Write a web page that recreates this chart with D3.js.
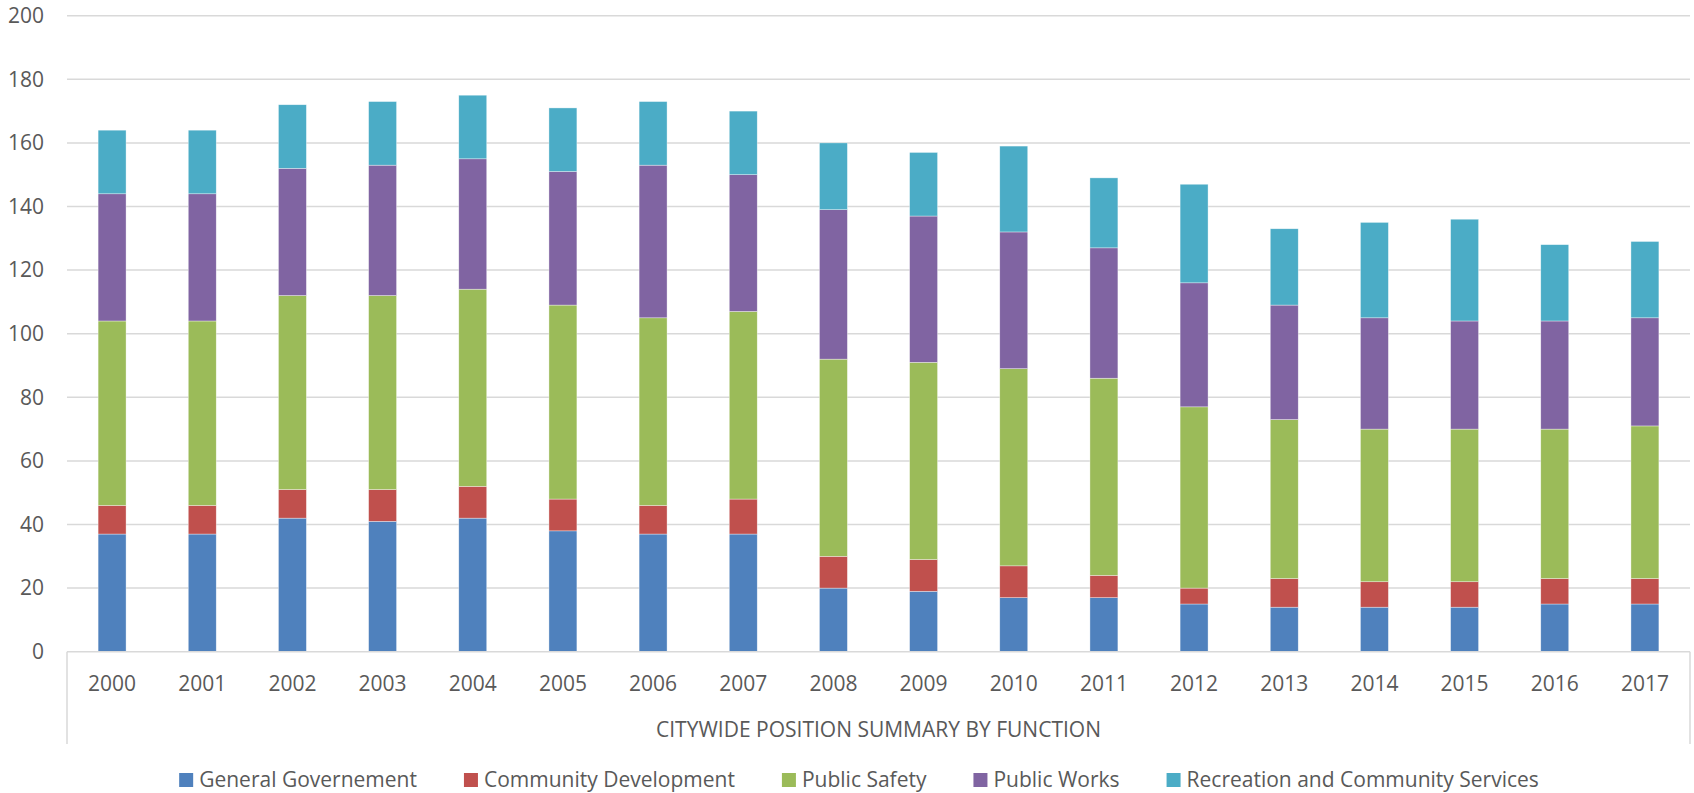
<!DOCTYPE html>
<html>
<head>
<meta charset="utf-8">
<title>Citywide position summary by function</title>
<script src="https://cdn.jsdelivr.net/npm/d3@7"></script>
<style>
  body { margin: 0; background: #fff; }
  text { font-family: "Open Sans", sans-serif; fill: #595959; }
</style>
</head>
<body>
<script>

// data
var years = ["2000","2001","2002","2003","2004","2005","2006","2007","2008",
             "2009","2010","2011","2012","2013","2014","2015","2016","2017"];
var seriesNames = ["General Governement", "Community Development", "Public Safety",
                   "Public Works", "Recreation and Community Services"];
var generalGov   = [37,37,42,41,42,38,37,37,20,19,17,17,15,14,14,14,15,15];
var communityDev = [9,9,9,10,10,10,9,11,10,10,10,7,5,9,8,8,8,8];
var publicSafety = [58,58,61,61,62,61,59,59,62,62,62,62,57,50,48,48,47,48];
var publicWorks  = [40,40,40,41,41,42,48,43,47,46,43,41,39,36,35,34,34,34];
var recreation   = [20,20,20,20,20,20,20,20,21,20,27,22,31,24,30,32,24,24];
var yTicks = [0,20,40,60,80,100,120,140,160,180,200];
var axisTitle = "CITYWIDE POSITION SUMMARY BY FUNCTION";

var colors = ["#4F81BD", "#C0504D", "#9BBB59", "#8064A2", "#4BACC6"];

var w = 1694, h = 793;
var plotLeft = 67, plotRight = 1690, plotTop = 15.7, plotBottom = 651.7;

// build rows for d3.stack
var allSeries = [generalGov, communityDev, publicSafety, publicWorks, recreation];
var table = years.map(function(yr, i) {
  var row = { year: yr };
  seriesNames.forEach(function(s, k) { row[s] = allSeries[k][i]; });
  return row;
});
var stacked = d3.stack().keys(seriesNames)(table);

var svg = d3.select("body").append("svg")
  .attr("width", w)
  .attr("height", h);

var x = d3.scaleBand()
  .domain(years)
  .range([plotLeft, plotRight])
  .paddingInner(0.69)
  .paddingOuter(0.345);

var y = d3.scaleLinear()
  .domain([0, 200])
  .range([plotBottom, plotTop]);

// gridlines
svg.append("g")
  .selectAll("line")
  .data(yTicks.filter(function(d) { return d > 0; }))
  .enter()
  .append("line")
  .attr("x1", plotLeft)
  .attr("x2", plotRight)
  .attr("y1", function(d) { return y(d); })
  .attr("y2", function(d) { return y(d); })
  .attr("stroke", "#d9d9d9")
  .attr("stroke-width", 1.5);

// y axis labels
var yAxis = d3.axisLeft(y).tickValues(yTicks).tickSize(0).tickPadding(23);
svg.append("g")
  .attr("transform", "translate(" + plotLeft + ",0)")
  .call(yAxis)
  .call(function(g) {
    g.select(".domain").remove();
    g.selectAll("text").attr("font-size", "21px").attr("font-family", "Open Sans").attr("fill", "#595959");
  });

// bars
svg.append("g")
  .selectAll("g")
  .data(stacked)
  .enter()
  .append("g")
  .attr("fill", function(d, i) { return colors[i]; })
  .selectAll("rect")
  .data(function(d) { return d; })
  .enter()
  .append("rect")
  .attr("x", function(d) { return x(d.data.year); })
  .attr("width", x.bandwidth())
  .attr("y", function(d) { return y(d[1]); })
  .attr("height", function(d) { return y(d[0]) - y(d[1]); })
  .attr("stroke", "rgba(255,255,255,0.6)")
  .attr("stroke-width", 0.6);

// category axis with box
var boxBottom = 744;
var xAxis = d3.axisBottom(x).tickSize(0).tickPadding(24);
svg.append("g")
  .attr("transform", "translate(0," + plotBottom + ")")
  .call(xAxis)
  .call(function(g) {
    g.select(".domain").remove();
    g.selectAll("text").attr("font-size", "21px").attr("font-family", "Open Sans").attr("fill", "#595959");
  });

svg.append("line")
  .attr("x1", plotLeft).attr("x2", plotRight)
  .attr("y1", plotBottom).attr("y2", plotBottom)
  .attr("stroke", "#d9d9d9").attr("stroke-width", 1.5);
[plotLeft, plotRight].forEach(function(px) {
  svg.append("line")
    .attr("x1", px).attr("x2", px)
    .attr("y1", plotBottom).attr("y2", boxBottom)
    .attr("stroke", "#d9d9d9").attr("stroke-width", 1.5);
});

svg.append("text")
  .attr("x", (plotLeft + plotRight) / 2)
  .attr("y", 730)
  .attr("dy", "0.35em")
  .attr("text-anchor", "middle")
  .attr("font-size", "21px")
  .text(axisTitle);

// legend, laid out by measured text widths
var legend = svg.append("g");
var items = legend.selectAll("g")
  .data(seriesNames)
  .enter()
  .append("g");
items.append("rect")
  .attr("width", 14)
  .attr("height", 14)
  .attr("y", 773)
  .attr("fill", function(d, i) { return colors[i]; });
items.append("text")
  .attr("x", 20)
  .attr("y", 780)
  .attr("dy", "0.35em")
  .attr("font-size", "21px")
  .text(function(d) { return d; });

var widths = [];
items.each(function() {
  widths.push(d3.select(this).select("text").node().getComputedTextLength());
});
var total = d3.sum(widths) + seriesNames.length * 20 + (seriesNames.length - 1) * 47;
var cx = 859 - total / 2;
items.attr("transform", function(d, i) {
  var t = "translate(" + cx + ",0)";
  cx += 20 + widths[i] + 47;
  return t;
});

</script>
</body>
</html>
